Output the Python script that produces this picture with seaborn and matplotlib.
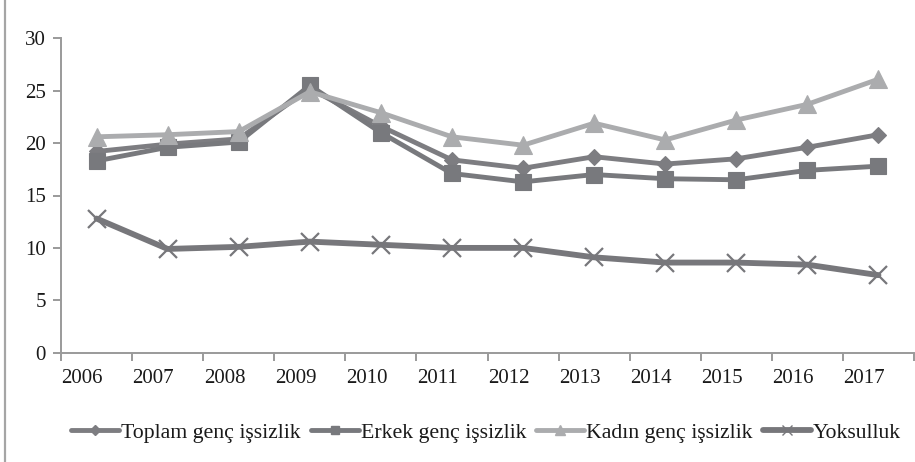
import matplotlib
matplotlib.use("Agg")
import matplotlib.pyplot as plt
from matplotlib.lines import Line2D
import seaborn as sns
import pandas as pd
import numpy as np

years = ["2006", "2007", "2008", "2009", "2010", "2011",
         "2012", "2013", "2014", "2015", "2016", "2017"]
toplam = [19.2, 19.9, 20.4, 25.2, 21.6, 18.4, 17.6, 18.7, 18.0, 18.5, 19.6, 20.8]
erkek = [18.3, 19.6, 20.1, 25.5, 21.0, 17.1, 16.3, 17.0, 16.6, 16.5, 17.4, 17.8]
kadin = [20.6, 20.8, 21.1, 24.9, 22.9, 20.6, 19.8, 21.9, 20.3, 22.2, 23.7, 26.1]
yoksulluk = [12.8, 9.9, 10.1, 10.6, 10.3, 10.0, 10.0, 9.1, 8.6, 8.6, 8.4, 7.4]

names = ["Toplam genç işsizlik", "Erkek genç işsizlik", "Kadın genç işsizlik", "Yoksulluk"]
series = [toplam, erkek, kadin, yoksulluk]
colors = ["#7d7d81", "#78797d", "#abacae", "#77777b"]
markers = ["D", "s", "^", "x"]
msizes = [8.5, 12, 13, 13]
lws = [3.5, 3.5, 3.5, 4.2]

sns.set_theme(style="white")
plt.rcParams["font.family"] = ["Liberation Serif", "DejaVu Serif"]

fig = plt.figure(figsize=(9.15, 4.62), dpi=100)
ax = fig.add_axes([61 / 915, 1 - 352.7 / 462, 853 / 915, (352.7 - 38.3) / 462])

xpos = np.arange(len(years))
for name, vals, c, m, ms, lw in zip(names, series, colors, markers, msizes, lws):
    df = pd.DataFrame({"x": xpos, "y": vals})
    if m == "x":
        sns.lineplot(data=df, x="x", y="y", ax=ax, color=c, lw=lw, marker=m,
                     markersize=ms, markeredgewidth=1.6, markeredgecolor=c)
    else:
        sns.lineplot(data=df, x="x", y="y", ax=ax, color=c, lw=lw, marker=m,
                     markersize=ms, markeredgewidth=0.8, markeredgecolor=c,
                     markerfacecolor=c)

ax.set_xlim(-0.5, len(years) - 0.5)
ax.set_ylim(0, 30)
ax.set_yticks([0, 5, 10, 15, 20, 25, 30])
ax.set_yticklabels(["0", "5", "10", "15", "20", "25", "30"])
ax.set_xticks(np.arange(-0.5, len(years)), labels=[""] * (len(years) + 1))
ax.set_xticks(xpos - 0.2, minor=True)
ax.set_xticklabels(years, minor=True)
ax.set_xlabel("")
ax.set_ylabel("")

axis_col = "#9a9a9a"
for s in ["top", "right"]:
    ax.spines[s].set_visible(False)
for s in ["left", "bottom"]:
    ax.spines[s].set_color(axis_col)
    ax.spines[s].set_linewidth(1.4)
ax.tick_params(axis="y", which="major", length=6, width=1.4, color=axis_col,
               labelsize=15, labelcolor="#1a1a1a", pad=5, left=True)
ax.tick_params(axis="x", which="major", length=6, width=1.4, color=axis_col,
               direction="out", bottom=True)
ax.tick_params(axis="x", which="minor", length=0, labelsize=15,
               labelcolor="#1a1a1a", pad=12)

# left frame line
fig.add_artist(Line2D([5 / 915, 5 / 915], [0, 1], transform=fig.transFigure,
                      color="#a5a5a5", lw=1.6))

handles = []
leg_ms = [5, 6, 7, 7]
for name, c, m, ms, lw in zip(names, colors, markers, leg_ms, lws):
    if m == "x":
        h = Line2D([], [], color=c, lw=lw, marker=m, markersize=ms,
                   markeredgewidth=1.0, markeredgecolor=c)
    else:
        h = Line2D([], [], color=c, lw=lw, marker=m, markersize=ms,
                   markerfacecolor=c, markeredgecolor=c)
    handles.append(h)

fig.legend(handles, names, loc="center", ncol=4, frameon=False,
           bbox_to_anchor=(486 / 915, 1 - 433 / 462), fontsize=15.7,
           handlelength=2.2, handletextpad=0.1, columnspacing=0.45,
           borderpad=0, labelcolor="#1a1a1a")

fig.savefig("out.png", dpi=100)
